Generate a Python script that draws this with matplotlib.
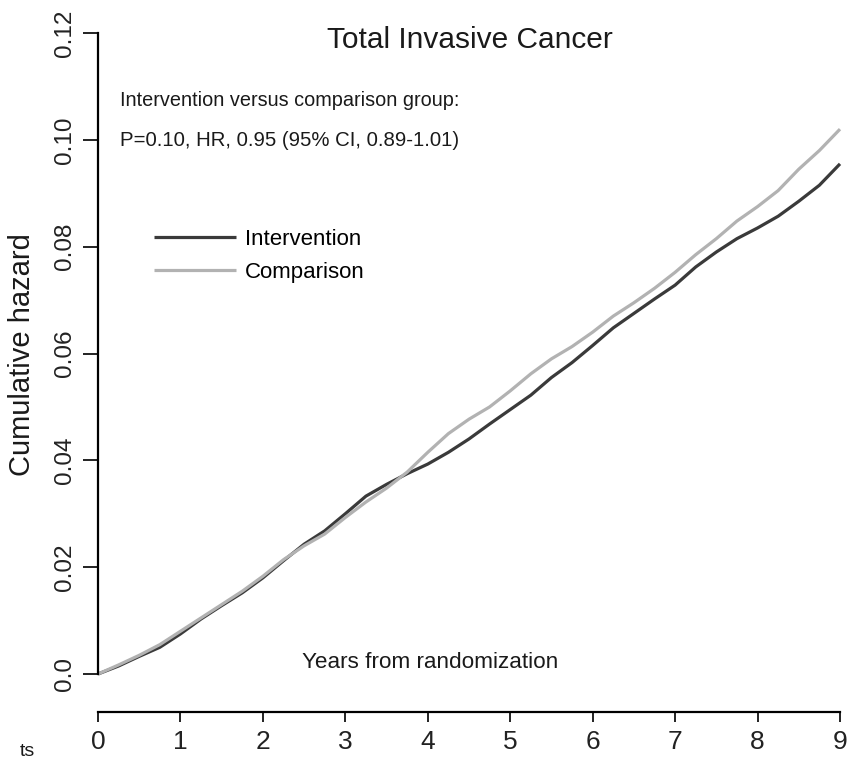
import matplotlib
matplotlib.use("Agg")
import matplotlib.pyplot as plt

# cumulative hazard, every quarter year
years = [0.00, 0.25, 0.50, 0.75, 1.00, 1.25, 1.50, 1.75, 2.00, 2.25, 2.50, 2.75,
         3.00, 3.25, 3.50, 3.75, 4.00, 4.25, 4.50, 4.75, 5.00, 5.25, 5.50, 5.75,
         6.00, 6.25, 6.50, 6.75, 7.00, 7.25, 7.50, 7.75, 8.00, 8.25, 8.50, 8.75, 9.00]
intervention = [0.0000, 0.0015, 0.0033, 0.0050, 0.0075, 0.0103, 0.0128, 0.0152,
                0.0180, 0.0212, 0.0243, 0.0268, 0.0300, 0.0333, 0.0355, 0.0375,
                0.0393, 0.0415, 0.0440, 0.0468, 0.0495, 0.0522, 0.0555, 0.0583,
                0.0615, 0.0648, 0.0675, 0.0702, 0.0728, 0.0762, 0.0790, 0.0815,
                0.0835, 0.0857, 0.0885, 0.0915, 0.0955]
comparison = [0.0000, 0.0017, 0.0035, 0.0055, 0.0080, 0.0105, 0.0130, 0.0155,
              0.0183, 0.0214, 0.0240, 0.0262, 0.0293, 0.0322, 0.0348, 0.0378,
              0.0415, 0.0450, 0.0477, 0.0500, 0.0530, 0.0562, 0.0590, 0.0613,
              0.0640, 0.0670, 0.0695, 0.0722, 0.0752, 0.0785, 0.0815, 0.0848,
              0.0875, 0.0905, 0.0945, 0.0980, 0.1020]

x_ticks = [0, 1, 2, 3, 4, 5, 6, 7, 8, 9]
y_ticks = [0.0, 0.02, 0.04, 0.06, 0.08, 0.10, 0.12]
y_tick_labels = ["0.0", "0.02", "0.04", "0.06", "0.08", "0.10", "0.12"]

plt.rcParams["font.family"] = ["Liberation Sans", "DejaVu Sans"]

W, H = 847, 759
fig = plt.figure(figsize=(W / 100, H / 100), dpi=100)
ax = fig.add_axes([98 / W, 85 / H, 742 / W, 641 / H])

dark, light = "#3a3a3a", "#b2b2b2"
ax.plot(years, intervention, color=dark, lw=2.3, clip_on=False, solid_capstyle="butt")
ax.plot(years, comparison, color=light, lw=2.3, clip_on=False, solid_capstyle="butt")

ax.set_xlim(0, 9)
ax.set_ylim(0, 0.12)
for s in ("top", "right"):
    ax.spines[s].set_visible(False)
ax.spines["bottom"].set_position(("outward", 27))
ax.spines["left"].set_linewidth(1.6)
ax.spines["bottom"].set_linewidth(1.6)

ax.set_xticks(x_ticks)
ax.set_xticklabels([str(t) for t in x_ticks], fontsize=19)
ax.tick_params(axis="x", length=7, width=1.4, pad=6, colors="#222222")
ax.set_yticks(y_ticks)
ax.set_yticklabels(y_tick_labels, rotation=90, va="center", fontsize=17.5)
ax.tick_params(axis="y", length=11, width=1.4, pad=5, colors="#222222")

fig.text(470 / W, 1 - 40 / H, "Total Invasive Cancer", ha="center", va="center",
         fontsize=21.5, color="#1a1a1a")
fig.text(22 / W, 1 - 355 / H, "Cumulative hazard", rotation=90, ha="center",
         va="center", fontsize=21, color="#1a1a1a")
fig.text(430 / W, 1 - 663 / H, "Years from randomization", ha="center", va="center",
         fontsize=16.2, color="#1a1a1a")
fig.text(120 / W, 1 - 100 / H, "Intervention versus comparison group:", ha="left",
         va="center", fontsize=14.3, color="#1a1a1a")
fig.text(120 / W, 1 - 140 / H, "P=0.10, HR, 0.95 (95% CI, 0.89-1.01)", ha="left",
         va="center", fontsize=14.7, color="#1a1a1a")
fig.text(20 / W, 1 - 752 / H, "ts", ha="left", va="center", fontsize=14, color="#1a1a1a")

# legend, placed by hand like the original
ax.legend(["Intervention", "Comparison"], loc="upper left",
          bbox_to_anchor=(36 / 742, 1 - 176 / 641), frameon=False, fontsize=16,
          handlelength=3.7, handletextpad=0.4, labelspacing=0.55)

fig.savefig("out.png", dpi=100)
